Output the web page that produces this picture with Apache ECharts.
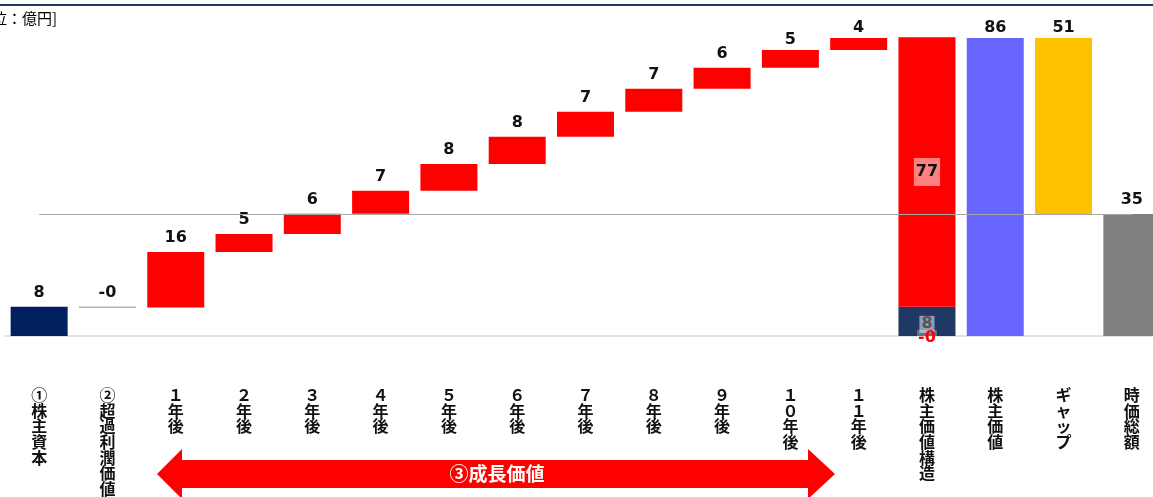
<!DOCTYPE html>
<html>
<head>
<meta charset="utf-8">
<script src="https://cdn.jsdelivr.net/npm/echarts@6/dist/echarts.min.js"></script>
<style>
html,body{margin:0;padding:0;background:#fff;overflow:hidden;}
#c{width:1166px;height:497px;}
</style>
</head>
<body>
<div id="c"></div>
<script>
// ---- data ----
const categories = ['①株主資本','②超過利潤価値','１年後','２年後','３年後','４年後','５年後','６年後','７年後','８年後','９年後','１０年後','１１年後','株主価値構造','株主価値','ギャップ','時価総額'];
const equity = 8.4;
const excessProfit = -0.2;
const growth = [15.9, 5.2, 5.8, 6.6, 7.7, 7.8, 7.2, 6.6, 6.0, 5.1, 3.5];
const shareholderValue = 85.6;
const marketCap = 35;

// ---- derived ----
const growthSum = growth.reduce((a, b) => a + b, 0);
const gap = shareholderValue - marketCap;
const N = categories.length;
const fmt = v => (v < 0 ? '-' : '') + Math.round(Math.abs(v));

const baseData = new Array(N).fill('-');
const mainData = new Array(N).fill('-');
const mainLabels = new Array(N).fill('');
const colors = new Array(N).fill('#ff0000');

mainData[0] = equity; mainLabels[0] = fmt(equity); colors[0] = '#002060';
baseData[1] = equity + excessProfit; mainData[1] = Math.abs(excessProfit); mainLabels[1] = fmt(excessProfit); colors[1] = '#548235';
let cum = equity + excessProfit;
growth.forEach((g, i) => {
  baseData[2 + i] = cum; mainData[2 + i] = g; mainLabels[2 + i] = fmt(g); colors[2 + i] = '#ff0000';
  cum += g;
});
mainData[14] = shareholderValue; mainLabels[14] = fmt(shareholderValue); colors[14] = '#6666ff';
baseData[15] = marketCap; mainData[15] = gap; mainLabels[15] = fmt(gap); colors[15] = '#ffc000';
mainData[16] = marketCap; mainLabels[16] = fmt(marketCap); colors[16] = '#808080';

const structEq = new Array(N).fill('-'); structEq[13] = equity;
const structGr = new Array(N).fill('-'); structGr[13] = growthSum;
const structEx = new Array(N).fill('-'); structEx[13] = excessProfit;

const numFont = 'DejaVu Sans';
const cjkFont = '"Noto Sans CJK JP", sans-serif';

const chart = echarts.init(document.getElementById('c'));
chart.setOption({
  animation: false,
  grid: { left: 5, right: 0, top: 22.6, bottom: 160, containLabel: false },
  xAxis: {
    type: 'category',
    data: categories,
    axisLine: { show: true, lineStyle: { color: '#d9d9d9', width: 1.5 } },
    axisTick: { show: false },
    axisLabel: {
      interval: 0,
      margin: 51,
      fontFamily: cjkFont,
      fontWeight: 'bold',
      fontSize: 16,
      lineHeight: 15.7,
      color: '#111',
      formatter: v => Array.from(v).join('\n')
    }
  },
  yAxis: { type: 'value', min: 0, max: 90, show: false, splitLine: { show: false } },
  series: [
    {
      type: 'bar', stack: 'w', data: baseData, barWidth: 57, silent: true,
      itemStyle: { color: 'rgba(0,0,0,0)' },
      markLine: {
        silent: true, symbol: 'none', label: { show: false },
        lineStyle: { color: '#a6a6a6', width: 1.2, type: 'solid' },
        data: [[{ coord: [0, marketCap] }, { coord: [N - 1, marketCap] }]]
      }
    },
    {
      type: 'bar', stack: 'w', barWidth: 57,
      data: mainData.map((v, i) => {
        if (v === '-') return '-';
        const top = (baseData[i] === '-' ? 0 : baseData[i]) + v;
        const item = { value: v, itemStyle: { color: colors[i] } };
        if (top > 82) item.label = { offset: [0, 4] };
        return item;
      }),
      label: {
        show: true, position: 'top', distance: 6,
        fontFamily: numFont, fontWeight: 'bold', fontSize: 16, color: '#111',
        formatter: p => mainLabels[p.dataIndex]
      }
    },
    {
      type: 'bar', stack: 'w', barWidth: 57, data: structEq,
      itemStyle: { color: '#203864' },
      label: {
        show: true, position: 'inside', offset: [0, 3],
        fontFamily: numFont, fontWeight: 'bold', fontSize: 16, color: '#555',
        backgroundColor: 'rgba(255,255,255,0.5)', padding: [1, 2, 0, 2],
        formatter: p => fmt(p.value)
      }
    },
    {
      type: 'bar', stack: 'w', barWidth: 57, data: structGr,
      itemStyle: { color: '#ff0000' },
      label: {
        show: true, position: 'inside',
        fontFamily: numFont, fontWeight: 'bold', fontSize: 16, color: '#111',
        backgroundColor: 'rgba(255,255,255,0.5)', padding: [6, 2, 6, 2],
        formatter: p => fmt(p.value)
      }
    },
    {
      type: 'bar', stack: 'w', barWidth: 57, data: structEx,
      itemStyle: { color: '#ff0000' },
      label: {
        show: true, position: 'inside', offset: [0, 2],
        fontFamily: numFont, fontWeight: 'bold', fontSize: 16, color: '#ff0000',
        backgroundColor: 'rgba(255,255,255,0.3)', padding: [0, 1, 0, 1],
        formatter: p => fmt(p.value)
      }
    }
  ],
  graphic: [
    { type: 'line', shape: { x1: 0, y1: 5, x2: 1166, y2: 5 }, style: { stroke: '#1f3864', lineWidth: 2 } },
    { type: 'text', left: -28, top: 11, style: { text: '[単位：億円]', font: '15px "Noto Sans CJK JP"', fill: '#000' } },
    {
      type: 'polygon',
      shape: { points: [[157,474],[182,449],[182,460],[808,460],[808,449],[835,474],[808,499],[808,488],[182,488],[182,499]] },
      style: { fill: '#ff0000' }
    },
    { type: 'text', x: 497, y: 474, style: { text: '③成長価値', font: 'bold 19px "Noto Sans CJK JP"', fill: '#fff', align: 'center', verticalAlign: 'middle' } }
  ]
});
</script>
</body>
</html>
